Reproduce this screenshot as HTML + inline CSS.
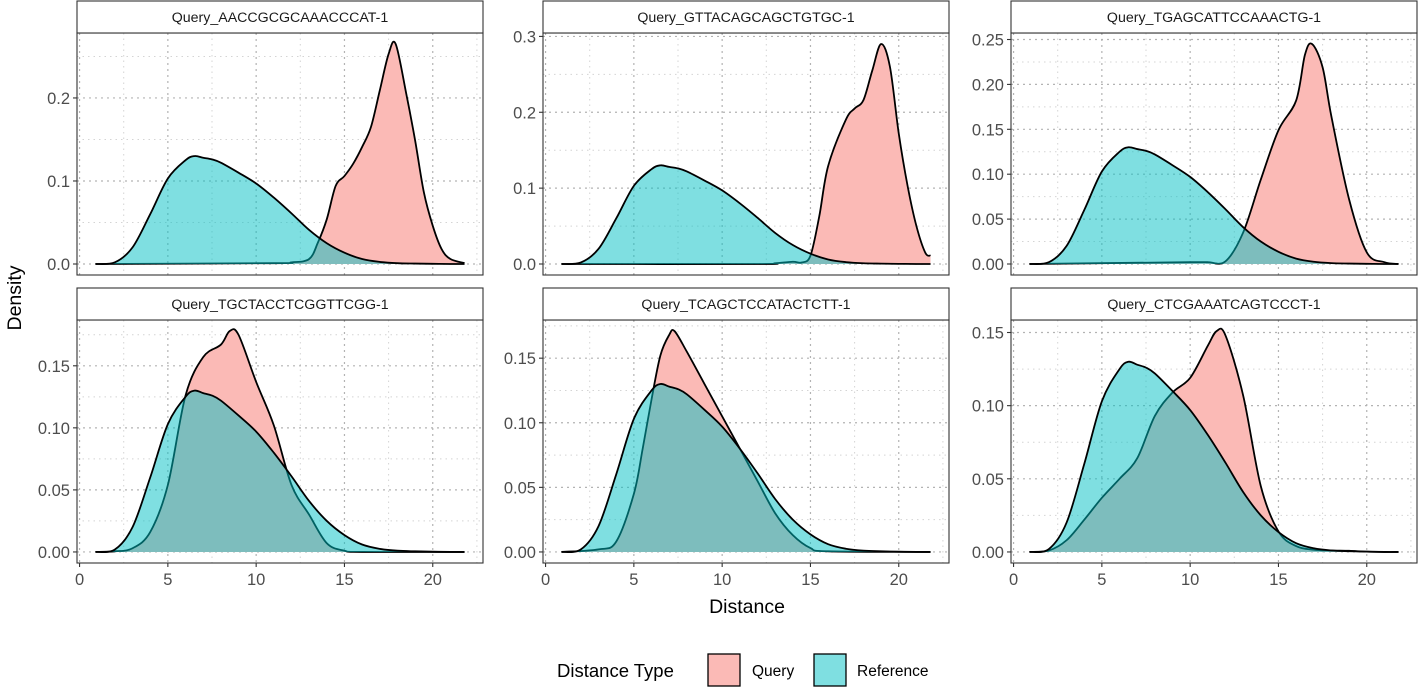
<!DOCTYPE html>
<html><head><meta charset="utf-8">
<style>
html,body{margin:0;padding:0;background:#fff;}
svg{display:block;font-family:"Liberation Sans",sans-serif;}
</style></head>
<body>
<svg id="chart" width="1418" height="687" viewBox="0 0 1418 687" xmlns="http://www.w3.org/2000/svg">
<text x="0" y="0" transform="translate(21,298) rotate(-90)" text-anchor="middle" font-size="19.5" fill="#000">Density</text>
<text x="747" y="613" text-anchor="middle" font-size="19.5" fill="#000">Distance</text>
<g>
<text x="557" y="677" font-size="18.5" fill="#000">Distance Type</text>
<rect x="708" y="654" width="32" height="32" fill="#fbbab6" stroke="#000" stroke-width="1.3"/>
<text x="752" y="676" font-size="15.5" fill="#000">Query</text>
<rect x="814" y="654" width="32" height="32" fill="#7fdfe1" stroke="#000" stroke-width="1.3"/>
<text x="857" y="676" font-size="15.5" fill="#000">Reference</text>
</g>
</svg>
<script>
// ---- data ----
const panelTitles = ["Query_AACCGCGCAAACCCAT-1","Query_GTTACAGCAGCTGTGC-1","Query_TGAGCATTCCAAACTG-1","Query_TGCTACCTCGGTTCGG-1","Query_TCAGCTCCATACTCTT-1","Query_CTCGAAATCAGTCCCT-1"];
const refX = [0.9,2,3,4,5,6,6.5,7,7.5,8,9,10,11,12,13,14,15,16,17,18,19,20,21,21.8];
const refY = [0,0.002,0.02,0.06,0.103,0.125,0.13,0.128,0.126,0.122,0.11,0.097,0.08,0.061,0.041,0.025,0.0136,0.006,0.0025,0.001,0.0005,0.0002,0,0];
const q1X = [0.9,11,12,13,13.5,14,14.5,15,15.5,16,16.5,17,17.5,17.9,18.5,19,19.5,20,20.5,21,21.8];
const q1Y = [0,0.001,0.002,0.006,0.026,0.054,0.094,0.106,0.121,0.141,0.165,0.209,0.253,0.265,0.205,0.149,0.086,0.046,0.018,0.006,0.001];
const q2X = [0.9,12,13,14,14.5,15,15.5,16,17,17.5,18,18.5,19,19.5,20,20.5,21,21.5,21.8];
const q2Y = [0,0,0.001,0.003,0.002,0.011,0.063,0.129,0.19,0.205,0.216,0.255,0.29,0.26,0.172,0.103,0.05,0.015,0.011];
const q3X = [0.9,10,11,12,13,14,15,16,16.5,16.9,17.5,18,19,20,21,21.8];
const q3Y = [0,0.002,0.002,0.003,0.035,0.094,0.149,0.182,0.233,0.245,0.219,0.164,0.072,0.013,0.002,0];
const q4X = [0.9,2,3,4,5,6,7,8,8.5,9,10,11,12,13,14,15,16,21.8];
const q4Y = [0,0.0005,0.003,0.016,0.054,0.126,0.157,0.167,0.178,0.175,0.137,0.102,0.054,0.03,0.007,0.001,0,0];
const q5X = [0.9,3,4,5,5.5,6,6.5,7,7.3,8,9,10,11,12,13,14,15,16,21.8];
const q5Y = [0,0.002,0.008,0.045,0.08,0.118,0.152,0.168,0.171,0.155,0.13,0.105,0.08,0.055,0.03,0.013,0.003,0.0005,0];
const q6X = [0.9,2,3,4,5,6,7,8,9,10,11,11.5,12,13,14,15,16,17,18,19,20,21,21.8];
const q6Y = [0,0.001,0.008,0.022,0.037,0.05,0.064,0.093,0.109,0.119,0.141,0.151,0.148,0.107,0.045,0.014,0.004,0.0015,0.001,0.0008,0.0002,0,0];
const yTicks = [[0,0.1,0.2],[0,0.1,0.2,0.3],[0,0.05,0.1,0.15,0.2,0.25],[0,0.05,0.1,0.15],[0,0.05,0.1,0.15],[0,0.05,0.1,0.15]];
const yDecimals = [1,1,2,2,2,2];
const xTicks = [0,5,10,15,20];

const queryXs=[q1X,q2X,q3X,q4X,q5X,q6X], queryYs=[q1Y,q2Y,q3Y,q4Y,q5Y,q6Y];
const NS="http://www.w3.org/2000/svg";
const svg=document.getElementById('chart');
const lefts=[77,543,1011], W=406;
const rows=[{st:1,top:33,bot:275},{st:288,top:320,bot:563}];
const xMin=-0.145,xMax=22.845;
function mk(t,a,p){const e=document.createElementNS(NS,t);for(const k in a)e.setAttribute(k,a[k]);(p||svg).appendChild(e);return e;}
function smooth(pts){let d="M"+pts[0][0]+","+pts[0][1];for(let i=0;i<pts.length-1;i++){const p0=pts[Math.max(0,i-1)],p1=pts[i],p2=pts[i+1],p3=pts[Math.min(pts.length-1,i+2)];const c1=[p1[0]+(p2[0]-p0[0])/6,p1[1]+(p2[1]-p0[1])/6],c2=[p2[0]-(p3[0]-p1[0])/6,p2[1]-(p3[1]-p1[1])/6];d+=" C"+c1[0].toFixed(2)+","+c1[1].toFixed(2)+" "+c2[0].toFixed(2)+","+c2[1].toFixed(2)+" "+p2[0].toFixed(2)+","+p2[1].toFixed(2);}return d;}
for(let p=0;p<6;p++){
  const r=rows[Math.floor(p/3)], L=lefts[p%3];
  const mx=Math.max(Math.max(...queryYs[p]),Math.max(...refY));
  const yLo=-0.05*mx,yHi=1.05*mx;
  const sx=v=>L+(v-xMin)/(xMax-xMin)*W;
  const sy=v=>r.bot-(v-yLo)/(yHi-yLo)*(r.bot-r.top);
  const g=mk('g',{});
  
  
  const step=yTicks[p][1]-yTicks[p][0];
  for(let v=step/2;v<yHi;v+=step){const l=mk('line',{x1:L,x2:L+W,y1:sy(v),y2:sy(v),stroke:'#d4d4d4','stroke-width':1,'stroke-dasharray':'1.5,4'},g);}
  for(let v=2.5;v<xMax;v+=5){const l=mk('line',{x1:sx(v),x2:sx(v),y1:r.top,y2:r.bot,stroke:'#d4d4d4','stroke-width':1,'stroke-dasharray':'1.5,4'},g);}
  yTicks[p].forEach(v=>{const l=mk('line',{x1:L,x2:L+W,y1:sy(v),y2:sy(v),stroke:'#b3b3b3','stroke-width':1.2,'stroke-dasharray':'2,4'},g);});
  xTicks.forEach(v=>{const l=mk('line',{x1:sx(v),x2:sx(v),y1:r.top,y2:r.bot,stroke:'#b3b3b3','stroke-width':1.2,'stroke-dasharray':'2,4'},g);});
  const y0=sy(0);
  [[queryXs[p],queryYs[p],'#fbbab6','query-density'],[refX,refY,'rgba(0,191,196,0.5)','reference-density']].forEach(([xs,ys,fill,nm])=>{
    const pts=xs.map((x,i)=>[sx(x),sy(ys[i])]);
    const d=smooth(pts);
    const a=mk('path',{d:d+" L"+pts[pts.length-1][0]+","+y0+" L"+pts[0][0]+","+y0+" Z",fill:fill,stroke:'none'},g);
    
    const ln=mk('path',{d:d,fill:'none',stroke:'#000','stroke-width':1.8,'stroke-linejoin':'round'},g);
    
  });
  const b=mk('rect',{x:L,y:r.top,width:W,height:r.bot-r.top,fill:'none',stroke:'#333','stroke-width':1.1},g);
  
  const s=mk('rect',{x:L,y:r.st,width:W,height:r.top-r.st,fill:'#fff',stroke:'#333','stroke-width':1.1},g);
  
  const st=mk('text',{x:L+W/2,y:r.st+21,'text-anchor':'middle','font-size':14.2,fill:'#1a1a1a'},g);st.textContent=panelTitles[p];
  
  yTicks[p].forEach(v=>{
    const t=mk('line',{x1:L-4,x2:L,y1:sy(v),y2:sy(v),stroke:'#333','stroke-width':1.1},g);
    const tx=mk('text',{x:L-7,y:sy(v)+6,'text-anchor':'end','font-size':16.5,fill:'#4d4d4d'},g);tx.textContent=v.toFixed(yDecimals[p]);
    
  });
  if(p>=3){xTicks.forEach(v=>{
    const t=mk('line',{x1:sx(v),x2:sx(v),y1:r.bot,y2:r.bot+4,stroke:'#333','stroke-width':1.1},g);
    const tx=mk('text',{x:sx(v),y:r.bot+22,'text-anchor':'middle','font-size':16.5,fill:'#4d4d4d'},g);tx.textContent=v;
    
  });}
}
</script>
</body></html>
